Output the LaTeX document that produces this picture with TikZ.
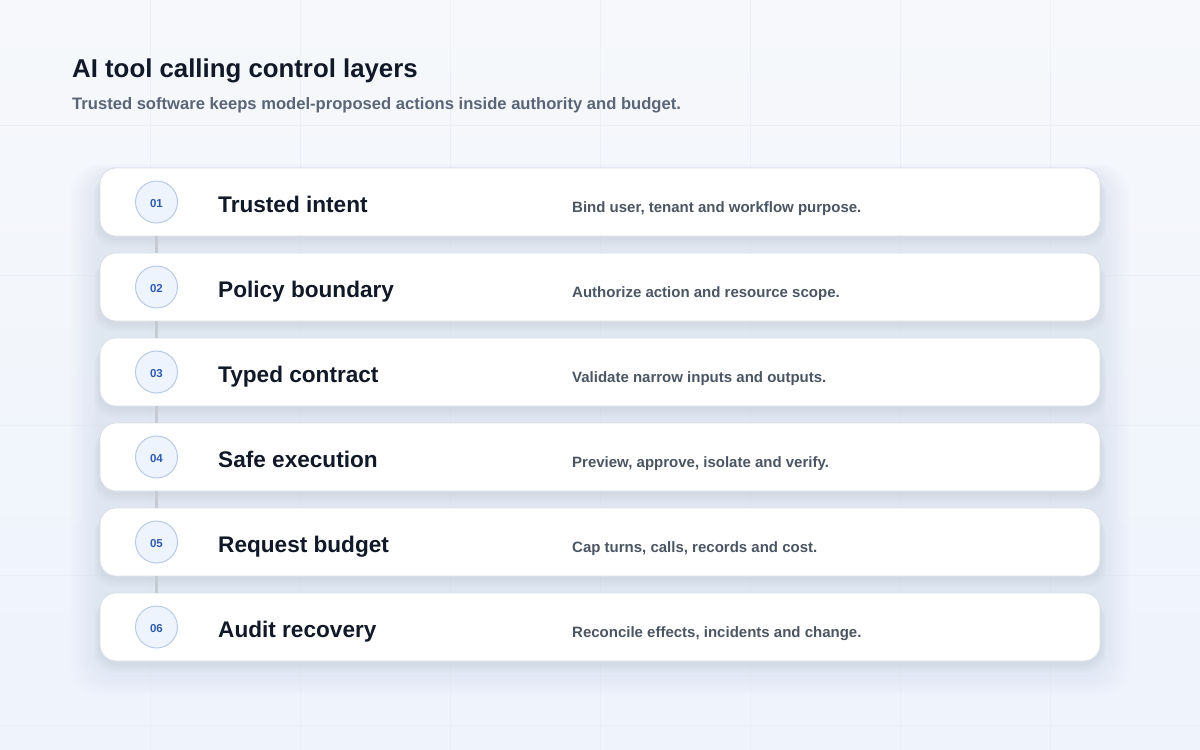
\documentclass[tikz,border=0pt]{standalone}
\usepackage{fontspec}
\setmainfont{Liberation Sans}
\usetikzlibrary{positioning}
\definecolor{bgA}{HTML}{F6F8FB}
\definecolor{bgB}{HTML}{EEF3FC}
\definecolor{gridc}{HTML}{E3E9F2}
\definecolor{titlec}{HTML}{111827}
\definecolor{subc}{HTML}{5B6577}
\definecolor{descc}{HTML}{4B5563}
\definecolor{cardline}{HTML}{D9DEE8}
\definecolor{shadowc}{HTML}{8C97B0}
\definecolor{circfill}{HTML}{EEF4FD}
\definecolor{circline}{HTML}{B7CAE8}
\definecolor{numc}{HTML}{2F5BAE}
\definecolor{linkc}{HTML}{C6CAD3}
\tikzset{
  cardbox/.style={draw=cardline, line width=0.8pt, fill=white, rounded corners=16pt, minimum width=1000pt, minimum height=68pt, inner sep=0pt},
  numcirc/.style={circle, draw=circline, line width=1pt, fill=circfill, minimum size=42pt, inner sep=0pt},
  numtext/.style={inner sep=0pt, font=\fontsize{11.5}{12}\selectfont\bfseries, text=numc},
  cardtitle/.style={anchor=base west, inner sep=0pt, font=\fontsize{22.6}{24}\selectfont\bfseries, text=titlec},
  carddesc/.style={anchor=base west, inner sep=0pt, font=\fontsize{15}{16}\selectfont\bfseries, text=descc},
  linkline/.style={draw=linkc, line width=3pt},
}
\begin{document}
\begin{tikzpicture}[x=1pt,y=-1pt]
\useasboundingbox (0,0) rectangle (1200,750);
\shade[left color=bgA, right color=bgB, shading angle=0] (0,0) rectangle (1200,750);
\foreach \gx in {150,300,...,1050} \draw[gridc, opacity=0.45, line width=0.6pt] (\gx,0) -- (\gx,750);
\foreach \gy in {125,275,425,575,725} \draw[gridc, opacity=0.45, line width=0.6pt] (0,\gy) -- (1200,\gy);
% soft panel shadow
\foreach \k in {1,...,10} {
  \fill[shadowc, opacity=0.012, rounded corners=30pt] (100-3*\k,168-\k+6) rectangle (1100+3*\k,661+3*\k+4);
}
\node[anchor=base west, inner sep=0pt, font=\fontsize{25.8}{28}\selectfont\bfseries, text=titlec] (title) at (72,77) {AI tool calling control layers};
\node[anchor=base west, inner sep=0pt, font=\fontsize{16.6}{18}\selectfont\bfseries, text=subc] (subtitle) at (72,109) {Trusted software keeps model-proposed actions inside authority and budget.};
\foreach \i/\t/\d [count=\n] in {
  01/Trusted intent/{Bind user, tenant and workflow purpose.},
  02/Policy boundary/{Authorize action and resource scope.},
  03/Typed contract/{Validate narrow inputs and outputs.},
  04/Safe execution/{Preview, approve, isolate and verify.},
  05/Request budget/{Cap turns, calls, records and cost.},
  06/Audit recovery/{Reconcile effects, incidents and change.}} {
  \pgfmathsetmacro{\cy}{202+85*(\n-1)}
  \foreach \k in {1,...,6} {
    \fill[shadowc, opacity=0.025, rounded corners=18pt] (100-\k,\cy-34+3+\k) rectangle (1100+\k,\cy+34+2+1.5*\k);
  }
  \node[cardbox] (card\n) at (600,\cy) {};
  \node[numcirc] (num\n) at (156.5,\cy) {};
  \node[numtext] (numt\n) at (156.5,\cy+1.8) {\i};
  \node[cardtitle] (ttl\n) at (218,\cy+10.5) {\t};
  \node[carddesc] (desc\n) at (572,\cy+10) {\d};
}
\foreach \a/\b in {1/2,2/3,3/4,4/5,5/6} {
  \draw[linkline] (card\a.south -| num\a) -- (card\b.north -| num\b);
}
\end{tikzpicture}
\end{document}
